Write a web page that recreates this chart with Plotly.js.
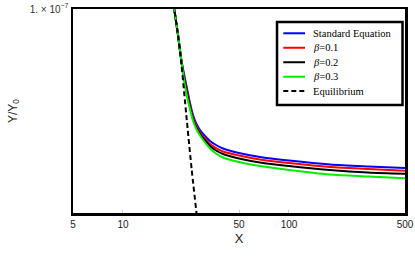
<!DOCTYPE html>
<html>
<head>
<meta charset="utf-8">
<script src="https://cdn.plot.ly/plotly-3.0.1.min.js"></script>
<style>html,body{margin:0;padding:0;background:#fff;}#chart{width:415px;height:258px;}</style>
</head>
<body>
<div id="chart"></div>
<script>
// x values (shared by the four freeze-out curves)
const xCurve = [19.74, 20.38, 21.45, 22.37, 23.32, 24.31, 25.34, 26.42, 27.54, 29.11, 31.20, 33.44, 36.35, 40.05, 50.0, 66.9, 100, 176.7, 300, 500];
const yStandard = [2.04e-7, 1e-7, 4.15e-8, 1.90e-8, 1.107e-8, 6.77e-9, 4.15e-9, 2.76e-9, 2.11e-9, 1.662e-9, 1.356e-9, 1.145e-9, 1.0e-9, 8.88e-10, 7.63e-10, 6.66e-10, 5.92e-10, 5.17e-10, 4.83e-10, 4.59e-10];
const yBeta01 = [2.04e-7, 1e-7, 4.15e-8, 1.90e-8, 1.034e-8, 6.22e-9, 3.88e-9, 2.54e-9, 1.97e-9, 1.53e-9, 1.246e-9, 1.034e-9, 9.03e-10, 8.03e-10, 7.01e-10, 6.12e-10, 5.44e-10, 4.75e-10, 4.44e-10, 4.19e-10];
const yBeta02 = [2.04e-7, 1e-7, 4.15e-8, 1.90e-8, 9.67e-9, 5.72e-9, 3.62e-9, 2.41e-9, 1.84e-9, 1.45e-9, 1.165e-9, 9.67e-10, 8.30e-10, 7.37e-10, 6.33e-10, 5.53e-10, 4.91e-10, 4.29e-10, 3.94e-10, 3.77e-10];
const yBeta03 = [2.04e-7, 1e-7, 4.15e-8, 1.90e-8, 9.03e-9, 5.17e-9, 3.38e-9, 2.29e-9, 1.75e-9, 1.38e-9, 1.088e-9, 8.88e-10, 7.50e-10, 6.55e-10, 5.62e-10, 4.91e-10, 4.29e-10, 3.68e-10, 3.44e-10, 3.24e-10];
// equilibrium curve
const xEq = [19.74, 20.38, 21.45, 22.37, 24.07, 25.95, 27.73, 28.31];
const yEq = [2.04e-7, 1e-7, 4.15e-8, 1.78e-8, 2.76e-9, 4.29e-10, 1e-10, 6.44e-11];
// labels
const seriesNames = ['Standard Equation', '<i>β</i>=0.1', '<i>β</i>=0.2', '<i>β</i>=0.3', 'Equilibrium'];
const xTicks = [5, 10, 50, 100, 500];
const xTickText = ['5', '10', '50', '100', '500'];
const yTicks = [1e-7];
const yTickText = ['1. × 10<sup>−7</sup>'];

const colors = ['#0000ff', '#ff0000', '#000000', '#00ee00', '#000000'];
const ys = [yStandard, yBeta01, yBeta02, yBeta03];
const traces = ys.map((y, i) => ({
  x: xCurve, y: y, type: 'scatter', mode: 'lines', name: seriesNames[i], showlegend: false,
  line: {color: colors[i], width: 2, shape: 'spline', smoothing: 0.8}
}));
traces.push({
  x: xEq, y: yEq, type: 'scatter', mode: 'lines', name: seriesNames[4], showlegend: false,
  line: {color: colors[4], width: 2, dash: '5px,3px', shape: 'spline', smoothing: 0.5}
});

// hand-placed legend box (paper coordinates)
const shapes = [{
  type: 'rect', xref: 'paper', yref: 'paper',
  x0: 0.6145, x1: 0.9925, y0: 0.5294, y1: 0.9363,
  line: {color: '#000', width: 2.5}, fillcolor: '#fff', layer: 'above'
}];
const annotations = [];
const legY = [0.881, 0.810, 0.739, 0.668, 0.598];
seriesNames.forEach((nm, i) => {
  shapes.push({type: 'line', xref: 'paper', yref: 'paper', x0: 0.6334, x1: 0.6988, y0: legY[i], y1: legY[i],
    line: {color: colors[i], width: 2, dash: i === 4 ? '5px,3px' : 'solid'}, layer: 'above'});
  annotations.push({xref: 'paper', yref: 'paper', x: 0.716, y: legY[i], xanchor: 'left', yanchor: 'middle',
    text: nm, showarrow: false,
    font: {family: 'Liberation Serif, Times New Roman, serif', size: 10.5, color: '#000'}});
});

const tickFont = {family: 'Liberation Sans, Arial, sans-serif', size: 10, color: '#222'};
const layout = {
  width: 415, height: 258,
  margin: {l: 73, r: 10, t: 9, b: 45},
  paper_bgcolor: '#fff', plot_bgcolor: '#fff',
  showlegend: false,
  shapes: shapes, annotations: annotations,
  xaxis: {
    type: 'log', range: [Math.log10(5), Math.log10(500)],
    tickvals: xTicks, ticktext: xTickText, tickfont: tickFont,
    showline: true, linecolor: '#000', linewidth: 2.5, mirror: true,
    showgrid: false, zeroline: false,
    ticks: 'inside', ticklen: 3, tickcolor: '#ccc', tickwidth: 1,
    title: {text: 'X', font: {family: 'Liberation Sans, Arial, sans-serif', size: 13, color: '#222'}, standoff: 6}
  },
  yaxis: {
    type: 'log', range: [-10, -7],
    tickvals: yTicks, ticktext: yTickText, tickfont: {family: 'Liberation Sans, Arial, sans-serif', size: 10, color: '#333'},
    showline: true, linecolor: '#000', linewidth: 2.5, mirror: true,
    showgrid: false, zeroline: false, ticks: '',
    title: {text: 'Y/Y<sub>0</sub>', font: {family: 'Liberation Sans, Arial, sans-serif', size: 12, color: '#222'}, standoff: 10}
  }
};
Plotly.newPlot('chart', traces, layout, {displayModeBar: false, staticPlot: true});
</script>
</body>
</html>
